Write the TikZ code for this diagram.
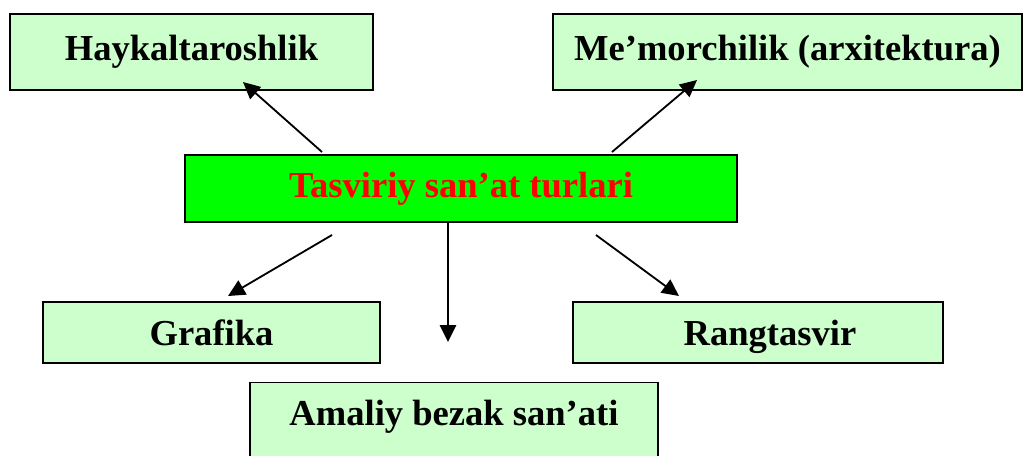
\documentclass[tikz,border=0pt]{standalone}
\usepackage{fontspec}
\setmainfont{Liberation Serif}
\usepackage{tikz}
\usetikzlibrary{arrows.meta}
\definecolor{lightgreen}{RGB}{204,255,204}
\definecolor{brightgreen}{RGB}{0,255,0}
\tikzset{
	box/.style={draw, line width=1pt, fill=lightgreen, inner sep=0pt, font=\fontsize{26}{30}\selectfont\bfseries},
	mainbox/.style={box, fill=brightgreen, text=red}
}

\begin{document}
\begin{tikzpicture}[x=0.025cm, y=-0.025cm, >={Triangle[length=12pt,width=11.5pt]}, line width=1.3pt]
			\clip (0,0) rectangle (1024,455);
			\node	(h) at (191.5,52) [box, minimum width=9.075cm, minimum height=1.9cm] {Haykaltaroshlik};
			\node	(m) at (787.5,52) [box, minimum width=11.725cm, minimum height=1.9cm] {Me’morchilik (arxitektura)};
			\node	(t) at (461,188.5) [mainbox, minimum width=13.8cm, minimum height=1.675cm] {Tasviriy san’at turlari};
			\node	(g) at (211.5,332.5) [box, minimum width=8.425cm, minimum height=1.525cm] {Grafika};
			\node	(r) at (758,332.5) [box, minimum width=9.25cm, minimum height=1.525cm, text depth=0pt] {\hspace{0.6cm}Rangtasvir};
			\node	(a) at (454,382) [box, anchor=north, minimum width=10.2cm, text height=1.075cm, text depth=1.2cm] {Amaliy bezak san’ati};
			\coordinate	(h1) at (322,152);
			\coordinate	(h2) at (243,82);
			\coordinate	(m1) at (612,152);
			\coordinate	(m2) at (697,80);
			\coordinate	(g1) at (332,235);
			\coordinate	(g2) at (228,296);
			\coordinate	(a2) at (448,342);
			\coordinate	(r1) at (596,235);
			\coordinate	(r2) at (679,296);
			\draw
			(h1) edge[->] (h2)
			(m1) edge[->] (m2)
			(g1) edge[->] (g2)
			(t.south -| a2) edge[->] (a2)
			(r1) edge[->] (r2)
			;
\end{tikzpicture}
\end{document}
